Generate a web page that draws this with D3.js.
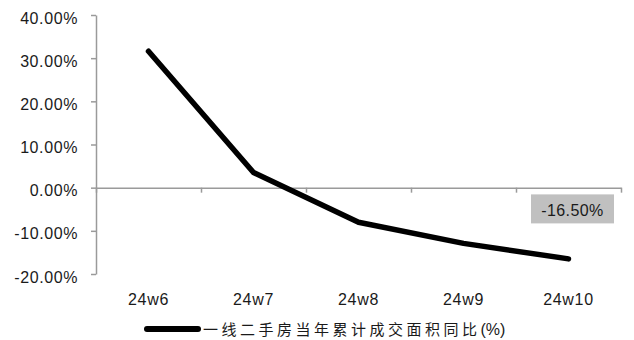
<!DOCTYPE html>
<html>
<head>
<meta charset="utf-8">
<script src="https://cdn.jsdelivr.net/npm/d3@7"></script>
<style>
  html, body { margin: 0; padding: 0; background: #fff; }
  svg { display: block; }
</style>
</head>
<body>
<svg id="chart" width="634" height="340"></svg>
<script>
// Weekly cumulative YoY change of tier-1 second-hand housing transaction area (%)
const categories = ["24w6", "24w7", "24w8", "24w9", "24w10"];
const values = [31.6, 3.5, -8.0, -12.9, -16.5];
const yTicks = [-20, -10, 0, 10, 20, 30, 40];
const seriesName = "一线二手房当年累计成交面积同比";
const seriesUnit = "(%)";
const lastLabel = "-16.50%";

(function draw() {
  const svg = d3.select("#chart");
  const plotLeft = 96, plotRight = 621, plotTop = 15, plotBottom = 274;
  const axisColor = "#9a9a9a";
  const textColor = "#1a1a1a";
  const latinFont = "'Liberation Sans', Arial, sans-serif";

  const x = d3.scaleBand().domain(categories).range([plotLeft, plotRight]).padding(0);
  const y = d3.scaleLinear().domain([-20, 40]).range([plotBottom, plotTop]);

  // Y axis
  const yAxis = svg.append("g")
    .attr("transform", `translate(${plotLeft},0)`)
    .call(d3.axisLeft(y).tickValues(yTicks).tickSize(5).tickSizeOuter(0).tickPadding(13)
      .tickFormat(d => d.toFixed(2) + "%"));
  yAxis.select(".domain").attr("stroke", axisColor).attr("stroke-width", 1.5);
  yAxis.selectAll(".tick line").attr("stroke", axisColor).attr("stroke-width", 1.5);
  yAxis.selectAll(".tick text")
    .attr("fill", textColor)
    .attr("dy", "0.5em")
    .style("font-family", latinFont)
    .style("font-size", "16px")
    .style("letter-spacing", "0.6px");

  // X axis at zero with ticks on category boundaries
  const bounds = d3.scaleLinear().domain([0, categories.length]).range([plotLeft, plotRight]);
  const xAxis = svg.append("g")
    .attr("transform", `translate(0,${y(0)})`)
    .call(d3.axisBottom(bounds).tickValues(d3.range(categories.length + 1)).tickSize(5)
      .tickSizeOuter(0).tickFormat(""));
  xAxis.select(".domain").attr("stroke", axisColor).attr("stroke-width", 1.5);
  xAxis.selectAll(".tick line").attr("stroke", axisColor).attr("stroke-width", 1.5);

  // Category labels below plot area
  svg.append("g").selectAll("text")
    .data(categories)
    .join("text")
    .attr("x", d => x(d) + x.bandwidth() / 2)
    .attr("y", 305)
    .attr("text-anchor", "middle")
    .attr("fill", textColor)
    .style("font-family", latinFont)
    .style("font-size", "16px")
    .style("letter-spacing", "0.7px")
    .text(d => d);

  // Series line
  const line = d3.line()
    .x((d, i) => x(categories[i]) + x.bandwidth() / 2)
    .y(d => y(d));
  svg.append("path")
    .datum(values)
    .attr("d", line)
    .attr("fill", "none")
    .attr("stroke", "#000")
    .attr("stroke-width", 5.5)
    .attr("stroke-linejoin", "round")
    .attr("stroke-linecap", "round");

  // Value label for the latest point
  const lastCat = categories[categories.length - 1];
  const lx = x(lastCat) + x.bandwidth() / 2 + 4;
  const ly = y(values[values.length - 1]) - 50;
  svg.append("rect")
    .attr("x", lx - 41.5).attr("y", ly - 14.5)
    .attr("width", 83).attr("height", 29)
    .attr("fill", "#c0c0c0");
  svg.append("text")
    .attr("x", lx).attr("y", ly + 7.5)
    .attr("text-anchor", "middle")
    .attr("fill", textColor)
    .style("font-family", latinFont)
    .style("font-size", "16px")
    .style("letter-spacing", "0.4px")
    .text(lastLabel);

  // Legend
  const legY = 329;
  svg.append("line")
    .attr("x1", 147).attr("x2", 198)
    .attr("y1", legY).attr("y2", legY)
    .attr("stroke", "#000").attr("stroke-width", 6)
    .attr("stroke-linecap", "round");
  const leg = svg.append("text")
    .attr("x", 203).attr("y", legY + 5.5)
    .attr("fill", textColor);
  leg.append("tspan")
    .style("font-family", "'Noto Sans CJK SC', sans-serif")
    .style("font-size", "15px")
    .style("letter-spacing", "3.5px")
    .text(seriesName);
  leg.append("tspan")
    .style("font-family", latinFont)
    .style("font-size", "16px")
    .text(seriesUnit);
})();
</script>
</body>
</html>
